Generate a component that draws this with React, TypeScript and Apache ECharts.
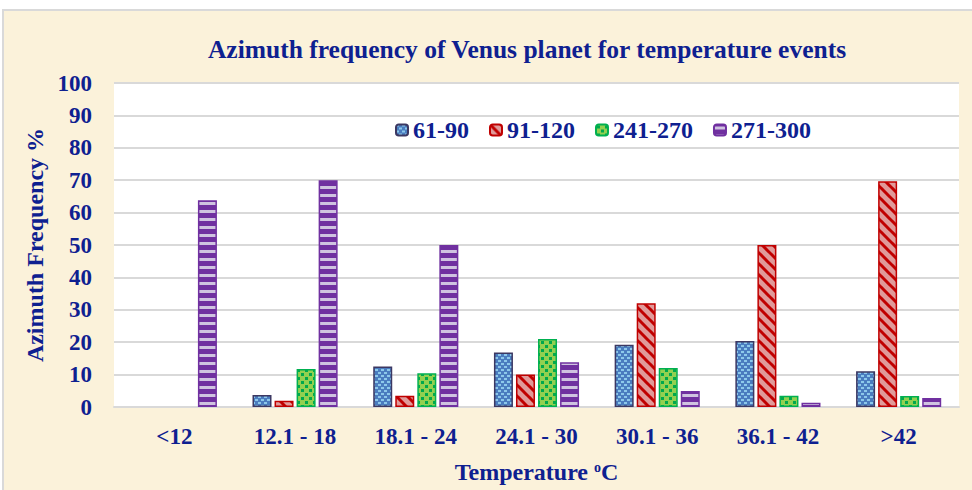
import React, { useEffect, useRef } from 'react';
import * as echarts from 'echarts';

const categories = ['<12', '12.1 - 18', '18.1 - 24', '24.1 - 30', '30.1 - 36', '36.1 - 42', '>42'];
const seriesNames = ['61-90', '91-120', '241-270', '271-300'];
const az61to90 = [0, 3.7, 12.5, 16.8, 19.2, 20.4, 11];
const az91to120 = [0, 1.9, 3.5, 10, 32, 50, 69.7];
const az241to270 = [0, 11.7, 10.4, 21, 12, 3.5, 3.4];
const az271to300 = [63.8, 70, 50, 13.8, 4.9, 1.3, 2.8];
const seriesValues = [az61to90, az91to120, az241to270, az271to300];

const NAVY = '#0E2090';
const FONT = '"Liberation Serif", "Times New Roman", serif';

function makePattern(size: number, draw: (ctx: CanvasRenderingContext2D) => void) {
  const c = document.createElement('canvas');
  c.width = size;
  c.height = size;
  const ctx = c.getContext('2d')!;
  draw(ctx);
  return { image: c.toDataURL(), repeat: 'repeat', imageWidth: size, imageHeight: size } as any;
}

function buildPatterns() {
  const blue = makePattern(6, (ctx) => {
    ctx.fillStyle = '#4A7CBF';
    ctx.fillRect(0, 0, 6, 6);
    ctx.fillStyle = '#8CC8EA';
    ctx.fillRect(0, 0, 3, 2);
    ctx.fillRect(3, 3, 3, 2);
  });
  const red = makePattern(11, (ctx) => {
    ctx.fillStyle = '#E09A9A';
    ctx.fillRect(0, 0, 11, 11);
    ctx.strokeStyle = '#C00000';
    ctx.lineWidth = 3;
    for (const x of [-11, 0, 11]) {
      ctx.beginPath();
      ctx.moveTo(x - 1, -1);
      ctx.lineTo(x + 12, 12);
      ctx.stroke();
    }
  });
  const green = makePattern(8, (ctx) => {
    ctx.fillStyle = '#92D050';
    ctx.fillRect(0, 0, 8, 8);
    ctx.fillStyle = '#00A84C';
    ctx.fillRect(1, 1, 3, 3);
    ctx.fillRect(5, 5, 3, 3);
  });
  const purple = makePattern(8, (ctx) => {
    ctx.fillStyle = '#7030A0';
    ctx.fillRect(0, 0, 8, 8);
    ctx.fillStyle = '#CFC3E0';
    ctx.fillRect(0, 2, 8, 3);
  });
  return [blue, red, green, purple];
}

const borderColors = ['#3C3862', '#C00000', '#00B050', '#7030A0'];

export default function App() {
  const ref = useRef<HTMLDivElement>(null);
  useEffect(() => {
    if (!ref.current) return;
    const chart = echarts.init(ref.current, null, { renderer: 'svg' });
    const patterns = buildPatterns();
    chart.setOption({
      animation: false,
      backgroundColor: '#FFFFFF',
      graphic: [
        {
          type: 'rect',
          z: -100,
          silent: true,
          shape: { x: 3, y: 10, width: 975, height: 490 },
          style: { fill: '#FBF2DA', stroke: '#D9D9D9', lineWidth: 2 },
        },
      ],
      title: {
        text: 'Azimuth frequency of Venus planet for temperature events',
        left: 522,
        top: 31,
        textAlign: 'center',
        textStyle: { fontFamily: FONT, fontWeight: 'bold', fontSize: 25.5, color: NAVY },
      },
      legend: {
        left: 390,
        top: 113,
        itemWidth: 12,
        itemHeight: 11,
        itemGap: 20,
        data: seriesNames,
        textStyle: { fontFamily: FONT, fontWeight: 'bold', fontSize: 24, color: NAVY },
      },
      grid: {
        left: 114,
        right: 13,
        top: 83,
        bottom: 83,
        show: true,
        backgroundColor: '#FFFFFF',
        borderWidth: 0,
      },
      xAxis: {
        type: 'category',
        data: categories,
        axisLine: { lineStyle: { color: '#D9D9D9', width: 2 } },
        axisTick: { show: false },
        axisLabel: {
          interval: 0,
          margin: 18,
          fontFamily: FONT,
          fontWeight: 'bold',
          fontSize: 23,
          color: NAVY,
        },
        name: '{a|Temperature }{s|o}{a|C}',
        nameLocation: 'middle',
        nameGap: 53,
        nameTextStyle: {
          rich: {
            a: { fontFamily: FONT, fontWeight: 'bold', fontSize: 24, color: NAVY },
            s: { fontFamily: FONT, fontWeight: 'bold', fontSize: 14, color: NAVY, verticalAlign: 'top', padding: [0, 0, 8, 0] },
          },
        },
      },
      yAxis: {
        type: 'value',
        min: 0,
        max: 100,
        interval: 10,
        axisLine: { show: false },
        axisTick: { show: false },
        splitLine: { lineStyle: { color: '#D9D9D9', width: 2 } },
        axisLabel: {
          margin: 22,
          fontFamily: FONT,
          fontWeight: 'bold',
          fontSize: 23,
          color: NAVY,
        },
        name: 'Azimuth Frequency %',
        nameLocation: 'middle',
        nameGap: 67,
        nameTextStyle: { fontFamily: FONT, fontWeight: 'bold', fontSize: 24, color: NAVY },
      },
      series: seriesNames.map((name, i) => ({
        name,
        type: 'bar',
        barWidth: 19,
        barGap: '16%',
        data: seriesValues[i].map((v) => (v === 0 ? { value: v, itemStyle: { borderWidth: 0 } } : v)),
        itemStyle: {
          color: patterns[i],
          borderColor: borderColors[i],
          borderWidth: 1.5,
        },
      })),
    });
    return () => chart.dispose();
  }, []);
  return (
    <div
      ref={ref}
      style={{ position: 'fixed', left: 0, top: 0, width: 972, height: 490 }}
    />
  );
}
